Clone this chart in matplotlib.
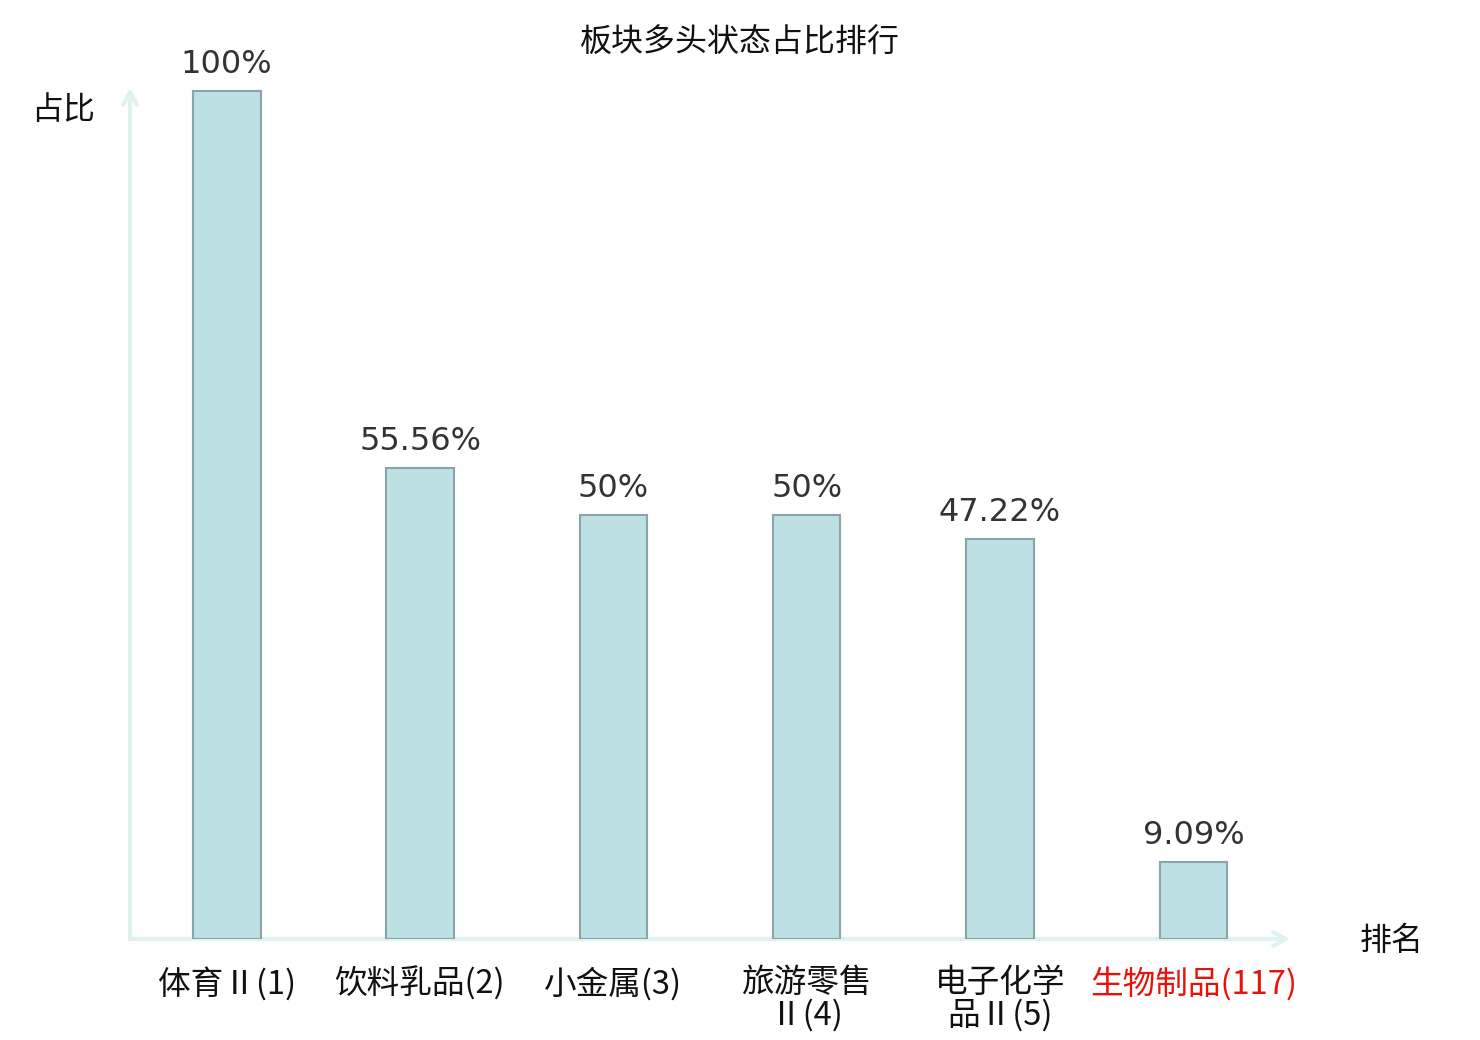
import matplotlib
matplotlib.use("Agg")
import matplotlib.pyplot as plt

plt.rcParams['font.family'] = ['Noto Sans CJK SC', 'DejaVu Sans']

categories = ["体育Ⅱ(1)", "饮料乳品(2)", "小金属(3)", "旅游零售\nⅡ(4)", "电子化学\n品Ⅱ(5)", "生物制品(117)"]
values = [100, 55.56, 50, 50, 47.22, 9.09]
value_labels = ["100%", "55.56%", "50%", "50%", "47.22%", "9.09%"]
label_colors = ["#111111"] * 5 + ["#e8120c"]

W, H = 1480, 1040
fig = plt.figure(figsize=(W / 100, H / 100), dpi=100)
ax = fig.add_axes([130 / W, (H - 939) / H, (1290 - 130) / W, (939 - 88) / H])

x = list(range(len(categories)))
bars = ax.bar(x, values, width=0.35, color="#bce0e3", edgecolor="#8aa5a7", linewidth=1.5, zorder=2)
for xi, v, lab in zip(x, values, value_labels):
    ax.annotate(lab, (xi, v), xytext=(0, 8), textcoords="offset points",
                ha="center", va="bottom", fontsize=23, color="#333333",
                family="DejaVu Sans")

ax.set_xlim(-0.5, 5.5)
ax.set_ylim(0, 100.4)
for s in ax.spines.values():
    s.set_visible(False)
ax.set_yticks([])
ax.set_xticks(x)
ax.set_xticklabels(categories, fontsize=23.5, linespacing=1.02)
for t, c in zip(ax.get_xticklabels(), label_colors):
    t.set_color(c)
ax.tick_params(axis="x", length=0, pad=20)

axis_color = "#dff2ef"
ax.annotate("", xy=(1, 0), xytext=(0, 0), xycoords="axes fraction",
            arrowprops=dict(arrowstyle="->,head_length=0.9,head_width=0.5", color=axis_color, lw=3,
                            shrinkA=0, shrinkB=0), zorder=1)
ax.annotate("", xy=(0, 1), xytext=(0, 0), xycoords="axes fraction",
            arrowprops=dict(arrowstyle="->,head_length=0.9,head_width=0.5", color=axis_color, lw=3,
                            shrinkA=0, shrinkB=0), zorder=1)

fig.text(0.5, 1 - 43 / H, "板块多头状态占比排行", ha="center", va="center", fontsize=23, color="#111111")
fig.text(63 / W, 1 - 110 / H, "占比", ha="center", va="center", fontsize=23, color="#111111")
fig.text(1392 / W, 1 - 941 / H, "排名", ha="center", va="center", fontsize=23, color="#111111")

fig.savefig("out.png", dpi=100, facecolor="white")
